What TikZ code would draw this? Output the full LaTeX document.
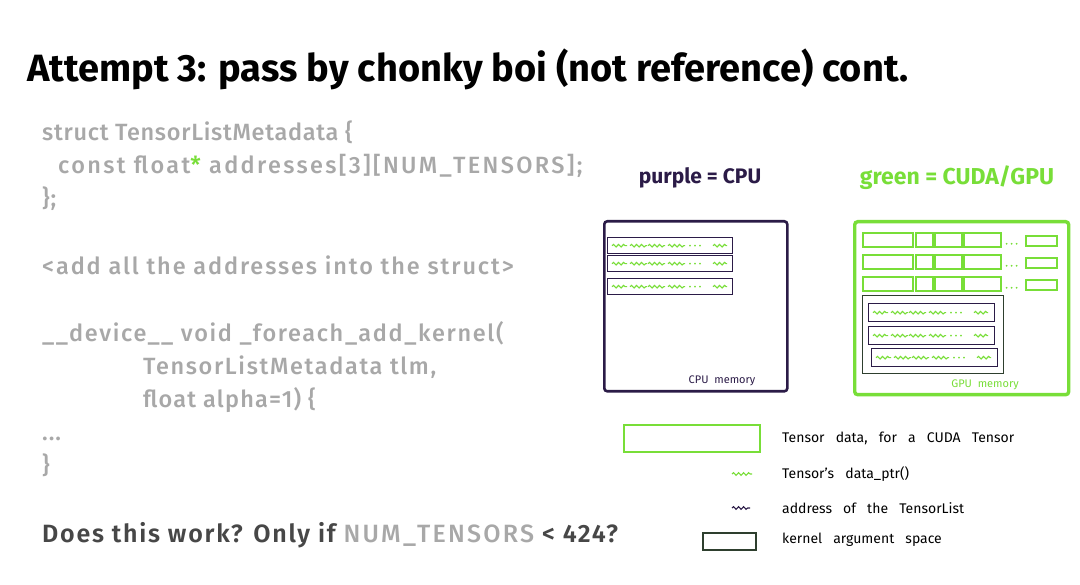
\documentclass[tikz,border=0pt]{standalone}
\usepackage{fontspec}
\setmainfont{Fira Sans}
\newfontfamily\codefont{Fira Sans Medium}[LetterSpace=4]
\newfontfamily\qfont{Fira Sans SemiBold}[LetterSpace=7]
\usetikzlibrary{decorations.pathmorphing}
\definecolor{codegray}{HTML}{A8A8A8}
\definecolor{darkq}{HTML}{474747}
\definecolor{cgreen}{HTML}{78DE38}
\definecolor{cpurple}{HTML}{2B1B47}
\definecolor{kdark}{HTML}{2E3F2E}
\begin{document}
\begin{tikzpicture}[x=1pt,y=-1pt,
  code/.style={anchor=base west,inner sep=0pt,text=codegray,font=\codefont\fontsize{23.5}{23.5}\selectfont},
  ls/.style={font=\codefont\addfontfeature{LetterSpace=#1}\fontsize{23.5}{23.5}\selectfont},
  titlestyle/.style={anchor=base west,inner sep=0pt,text=black,font=\fontsize{38}{38}\selectfont\bfseries},
  hand/.style={anchor=west,inner sep=0pt,text=black,font=\fontsize{14}{14}\selectfont},
  cpubox/.style={draw=cpurple,line width=2.6pt,rounded corners=3pt},
  gpubox/.style={draw=cgreen,line width=3.4pt,rounded corners=3pt},
  prow/.style={draw=cpurple,line width=1.4pt},
  gcell/.style={draw=cgreen,line width=1.6pt},
  kbox/.style={draw=kdark,line width=1.3pt},
  gsq/.style={draw=cgreen,line width=1.1pt,decorate,decoration={snake,amplitude=1.3pt,segment length=5pt}},
  psq/.style={draw=cpurple,line width=1.1pt,decorate,decoration={snake,amplitude=1.3pt,segment length=5pt}},
  gdot/.style={fill=cgreen,circle,inner sep=0.7pt}
]
\useasboundingbox[fill=white] (0,0) rectangle (1080,585);

% title
\node[titlestyle] (title) at (27,82) {Attempt 3: pass by chonky boi (not reference) cont.};

% code
\node[code,ls=3] (c1) at (42,141) {struct TensorListMetadata \{};
\node[code,ls=10] (c2) at (58,174) {const float\textcolor{cgreen}{*} addresses[3][NUM\_TENSORS];};
\node[code] (c3) at (42,207) {\};};
\node[code,ls=8] (c4) at (42,275) {<add all the addresses into the struct>};
\node[code,ls=7] (c5) at (42,342) {\_\_device\_\_ void \_foreach\_add\_kernel(};
\node[code,ls=7] (c6) at (143,375) {TensorListMetadata tlm,};
\node[code,ls=5] (c7) at (143,408) {float alpha=1) \{};
\node[code] (c8) at (42,441) {...};
\node[code] (c9) at (42,474) {\}};
\node[code,text=darkq,font=\qfont\fontsize{25}{25}\selectfont] (q) at (42,542)
  {Does this work? Only if \textcolor{codegray}{\codefont\addfontfeature{LetterSpace=9}NUM\_TENSORS} < 424?};

% headings
\node[anchor=center,inner sep=0pt,text=cpurple,font=\fontsize{21}{21}\selectfont\bfseries] (ph) at (700,178) {purple = CPU};
\node[anchor=center,inner sep=0pt,text=cgreen,font=\fontsize{23}{23}\selectfont\bfseries] (gh) at (957,178) {green = CUDA/GPU};

% CPU memory
\node[cpubox,anchor=north west,minimum width=183pt,minimum height=170pt,inner sep=0pt] (cpu) at (603,220) {};
\node[anchor=center,inner sep=0pt,font=\fontsize{11}{11}\selectfont,text=cpurple] (cpul) at (722,381) {CPU \ memory};
\foreach \y/\n in {237/1,255/2,278/3}{
  \node[prow,anchor=north west,minimum width=125pt,minimum height=16pt,inner sep=0pt] (cr\n) at (607,\y) {};
  \draw[gsq] (cr\n.west) ++(5,0) -- ++(15,0);
  \draw[gsq] (cr\n.west) ++(23,0) -- ++(17,0);
  \draw[gsq] (cr\n.west) ++(41,0) -- ++(17,0);
  \draw[gsq] (cr\n.west) ++(61,0) -- ++(17,0);
  \foreach \d in {83,88,93} \node[gdot] at ([xshift=\d pt]cr\n.west) {};
  \draw[gsq] (cr\n.west) ++(106,0) -- ++(14,0);
}

% GPU memory
\node[gpubox,anchor=north west,minimum width=214pt,minimum height=173pt,inner sep=0pt] (gpu) at (853,220) {};
\node[anchor=center,inner sep=0pt,font=\fontsize{11}{11}\selectfont,text=cgreen] (gpul) at (985,385) {GPU \ memory};
\foreach \y/\n in {232/1,254/2,276/3}{
  \node[gcell,anchor=north west,minimum width=50pt,minimum height=14pt,inner sep=0pt] (ga\n) at (862,\y) {};
  \node[gcell,anchor=north west,minimum width=17pt,minimum height=14pt,inner sep=0pt] (gb\n) at (915,\y) {};
  \node[gcell,anchor=north west,minimum width=27pt,minimum height=14pt,inner sep=0pt] (gc\n) at (934,\y) {};
  \node[gcell,anchor=north west,minimum width=37pt,minimum height=14pt,inner sep=0pt] (gd\n) at (963,\y) {};
  \foreach \d in {5,10,15} \node[gdot] at ([xshift=\d pt,yshift=-4pt]gd\n.east) {};
  \node[gcell,anchor=north west,minimum width=31pt,minimum height=10pt,inner sep=0pt] (ge\n) at (1025,\y+3) {};
}
\node[kbox,anchor=north west,minimum width=141pt,minimum height=78pt,inner sep=0pt] (karg) at (862,295) {};
\foreach \y/\n/\x in {303/1/868,326/2/868,348/3/871}{
  \node[prow,anchor=north west,minimum width=126pt,minimum height=18pt,inner sep=0pt] (gr\n) at (\x,\y) {};
  \draw[gsq] (gr\n.west) ++(5,0) -- ++(15,0);
  \draw[gsq] (gr\n.west) ++(23,0) -- ++(17,0);
  \draw[gsq] (gr\n.west) ++(41,0) -- ++(17,0);
  \draw[gsq] (gr\n.west) ++(61,0) -- ++(17,0);
  \foreach \d in {83,88,93} \node[gdot] at ([xshift=\d pt]gr\n.west) {};
  \draw[gsq] (gr\n.west) ++(106,0) -- ++(14,0);
}

% legend
\node[gcell,line width=2pt,anchor=north west,minimum width=136pt,minimum height=27pt,inner sep=0pt] (lg1) at (623,424) {};
\node[hand] (lt1) at (782,438) {Tensor \ \ data, \ \ for \ \ a \ \ CUDA \ \ Tensor};
\coordinate (s1a) at (732,474); \coordinate (s1b) at (752,474);
\draw[gsq] (s1a) -- (s1b);
\node[hand] (lt2) at (782,474) {Tensor's \ \ data\_ptr()};
\coordinate (s2a) at (732,508); \coordinate (s2b) at (750,508);
\draw[psq] (s2a) -- (s2b);
\node[hand] (lt3) at (782,508) {address \ \ of \ \ the \ \ TensorList};
\node[kbox,line width=1.6pt,anchor=north west,minimum width=53pt,minimum height=17pt,inner sep=0pt] (lg4) at (702,532) {};
\node[hand] (lt4) at (782,540) {kernel \ \ argument \ \ space};
\end{tikzpicture}
\end{document}
